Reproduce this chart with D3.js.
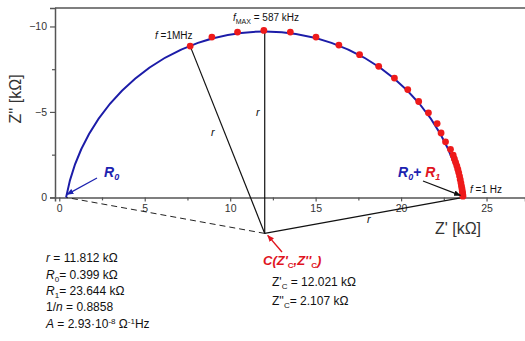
<!DOCTYPE html>
<html>
<head>
<meta charset="utf-8">
<script src="https://cdn.jsdelivr.net/npm/d3@7"></script>
<style>
  html,body{margin:0;padding:0;background:#fff;}
  svg{display:block;font-family:"Liberation Sans",Arial,sans-serif;}
</style>
</head>
<body>
<svg id="chart" width="525" height="341"></svg>
<script>
// ---- data ----
const xTicks = [0, 5, 10, 15, 20, 25];
const xMinorTicks = [2.5, 7.5, 12.5, 17.5, 22.5];
const yTicks = [0, -5, -10];
const yMinorTicks = [-2.5, -7.5];
// measured impedance points (Z' , Z'') in kOhm
const zReal = [7.66, 8.93, 10.43, 11.97, 13.52, 15.02, 16.36, 17.57, 18.69, 19.61, 20.39, 21.03, 21.60, 22.11, 22.34, 22.60, 22.89, 23.05,
               23.12, 23.19, 23.26, 23.32, 23.37, 23.42, 23.46, 23.50, 23.53, 23.56, 23.58, 23.60, 23.61, 23.62];
const zImag = [-8.85, -9.38, -9.67, -9.77, -9.67, -9.38, -8.91, -8.35, -7.67, -6.98, -6.31, -5.61, -4.95, -4.32, -3.77, -3.25, -2.81, -2.47,
               -2.25, -2.05, -1.85, -1.65, -1.45, -1.25, -1.05, -0.85, -0.68, -0.52, -0.38, -0.26, -0.15, -0.07];
// fit parameters
const rFit = 11.812, R0 = 0.399, R1 = 23.644, ZcRe = 12.021, ZcIm = 2.107;
const f1MHz = [7.66, -8.85];

// ---- scales ----
const svg = d3.select("#chart");
const x = d3.scaleLinear().domain([-0.25, 27.25]).range([55, 525]);
const y = d3.scaleLinear().domain([0, -11.08]).range([197.4, 8]);
const pxPerUnit = x(1) - x(0);

const axisColor = "#555";
const textColor = "#333";

// top frame line
svg.append("line").attr("x1", 55).attr("x2", 525).attr("y1", y(-11.08)).attr("y2", y(-11.08))
  .attr("stroke", axisColor).attr("stroke-width", 1.5);

// x axis
const gx = svg.append("g").attr("transform", `translate(0,${y(0)})`)
  .call(d3.axisBottom(x).tickValues(xTicks).tickSize(4).tickPadding(3).tickFormat(d3.format("d")));
gx.select(".domain").attr("stroke", axisColor).attr("stroke-width", 1.5);
gx.selectAll(".tick line").attr("stroke", axisColor).attr("stroke-width", 1.2);
gx.selectAll(".tick text").attr("fill", textColor).attr("font-size", 10.5).attr("font-family", "Liberation Sans, Arial, sans-serif");
svg.append("g").attr("transform", `translate(0,${y(0)})`)
  .call(d3.axisBottom(x).tickValues(xMinorTicks).tickSize(3).tickFormat(""))
  .call(g => g.select(".domain").remove())
  .selectAll(".tick line").attr("stroke", axisColor).attr("stroke-width", 1.2);

// y axis
const gy = svg.append("g").attr("transform", `translate(55,0)`)
  .call(d3.axisLeft(y).tickValues(yTicks).tickSize(5).tickPadding(3).tickFormat(d => d === 0 ? "0" : "\u2212" + Math.abs(d)));
gy.select(".domain").attr("stroke", axisColor).attr("stroke-width", 1.5);
gy.selectAll(".tick line").attr("stroke", axisColor).attr("stroke-width", 1.2);
gy.selectAll(".tick text").attr("fill", textColor).attr("font-size", 10.5).attr("font-family", "Liberation Sans, Arial, sans-serif");
svg.append("g").attr("transform", `translate(55,0)`)
  .call(d3.axisLeft(y).tickValues(yMinorTicks).tickSize(3).tickFormat(""))
  .call(g => g.select(".domain").remove())
  .selectAll(".tick line").attr("stroke", axisColor).attr("stroke-width", 1.2);

// axis titles
svg.append("text").attr("x", 458).attr("y", 234).attr("text-anchor", "middle")
  .attr("font-size", 16).attr("fill", textColor).text("Z' [k\u03A9]");
svg.append("text").attr("transform", "translate(21,99) rotate(-90)").attr("text-anchor", "middle")
  .attr("font-size", 16).attr("fill", textColor).text("Z'' [k\u03A9]");

// markers
const defs = svg.append("defs");
function marker(id, color) {
  defs.append("marker").attr("id", id).attr("viewBox", "0 0 10 10").attr("refX", 9).attr("refY", 5)
    .attr("markerWidth", 7).attr("markerHeight", 7).attr("orient", "auto").attr("markerUnits", "userSpaceOnUse")
    .append("path").attr("d", "M0,1 L10,5 L0,9 Z").attr("fill", color);
}
marker("arBlue", "#1c22b0");
marker("arBlack", "#111");
marker("arRed", "#e0141e");

// construction lines from the centre
const cx = x(ZcRe), cy = y(ZcIm);
svg.append("line").attr("x1", cx).attr("y1", cy).attr("x2", x(R0)).attr("y2", y(0))
  .attr("stroke", "#222").attr("stroke-width", 1).attr("stroke-dasharray", "6,4");
svg.append("line").attr("x1", cx).attr("y1", cy).attr("x2", x(f1MHz[0])).attr("y2", y(f1MHz[1]))
  .attr("stroke", "#111").attr("stroke-width", 1.2);
svg.append("line").attr("x1", cx).attr("y1", cy).attr("x2", cx).attr("y2", y(ZcIm - rFit))
  .attr("stroke", "#111").attr("stroke-width", 1.2);
svg.append("line").attr("x1", cx).attr("y1", cy).attr("x2", x(R1)).attr("y2", y(0))
  .attr("stroke", "#111").attr("stroke-width", 1.2);

// fitted arc
const rPx = rFit * pxPerUnit;
svg.append("path")
  .attr("d", `M${x(R0)},${y(0)} A${rPx},${rPx} 0 0 1 ${x(R1)},${y(0)}`)
  .attr("fill", "none").attr("stroke", "#1c1ca8").attr("stroke-width", 2);

// data points
svg.append("g").selectAll("circle").data(d3.range(zReal.length)).join("circle")
  .attr("cx", i => x(zReal[i])).attr("cy", i => y(zImag[i])).attr("r", 3.4)
  .attr("fill", "#ee1a1a");

// r labels
function rLabel(px, py) {
  svg.append("text").attr("x", px).attr("y", py).attr("font-size", 11).attr("font-style", "italic")
    .attr("fill", "#111").text("r");
}
rLabel(211, 136);
rLabel(256, 116);
rLabel(367, 223);

// frequency labels
const fl1 = svg.append("text").attr("x", 155).attr("y", 39).attr("font-size", 10).attr("fill", "#111");
fl1.append("tspan").attr("font-style", "italic").text("f");
fl1.append("tspan").text(" =1MHz");
const fl2 = svg.append("text").attr("x", 233).attr("y", 21).attr("font-size", 10).attr("fill", "#111");
fl2.append("tspan").attr("font-style", "italic").text("f");
fl2.append("tspan").attr("font-size", 7).attr("dy", 2.5).text("MAX");
fl2.append("tspan").attr("dy", -2.5).text(" = 587 kHz");
const fl3 = svg.append("text").attr("x", 470).attr("y", 193).attr("font-size", 10).attr("fill", "#111");
fl3.append("tspan").attr("font-style", "italic").text("f");
fl3.append("tspan").text(" =1 Hz");

// R0 arrow
svg.append("line").attr("x1", 97).attr("y1", 178).attr("x2", x(R0) + 1).attr("y2", y(0) - 3)
  .attr("stroke", "#1c22b0").attr("stroke-width", 1.2).attr("marker-end", "url(#arBlue)");
const r0t = svg.append("text").attr("x", 104).attr("y", 177).attr("font-size", 14).attr("font-weight", "bold")
  .attr("font-style", "italic").attr("fill", "#1c22b0");
r0t.append("tspan").text("R");
r0t.append("tspan").attr("font-size", 9).attr("dy", 3).text("0");

// R0+R1 arrow
svg.append("line").attr("x1", 423).attr("y1", 181).attr("x2", x(R1) - 3).attr("y2", y(0) - 2)
  .attr("stroke", "#111").attr("stroke-width", 1.2).attr("marker-end", "url(#arBlack)");
const rr = svg.append("text").attr("x", 398).attr("y", 177).attr("font-size", 14).attr("font-weight", "bold")
  .attr("font-style", "italic");
rr.append("tspan").attr("fill", "#1c22b0").text("R");
rr.append("tspan").attr("fill", "#1c22b0").attr("font-size", 9).attr("dy", 3).text("0");
rr.append("tspan").attr("fill", "#1c22b0").attr("dy", -3).attr("font-style", "normal").text("+ ");
rr.append("tspan").attr("fill", "#e0141e").text("R");
rr.append("tspan").attr("fill", "#e0141e").attr("font-size", 9).attr("dy", 3).text("1");

// centre arrow & label
svg.append("line").attr("x1", 282).attr("y1", 252).attr("x2", cx + 3).attr("y2", cy + 2)
  .attr("stroke", "#e0141e").attr("stroke-width", 1.4).attr("marker-end", "url(#arRed)");
const ct = svg.append("text").attr("x", 263).attr("y", 265).attr("font-size", 13).attr("font-weight", "bold")
  .attr("font-style", "italic").attr("fill", "#e0141e");
ct.append("tspan").text("C(Z'");
ct.append("tspan").attr("font-size", 8).attr("dy", 3).attr("font-style", "normal").text("C");
ct.append("tspan").attr("dy", -3).text(",Z''");
ct.append("tspan").attr("font-size", 8).attr("dy", 3).attr("font-style", "normal").text("C");
ct.append("tspan").attr("dy", -3).text(")");

// centre values
function lineText(px, py, parts) {
  const t = svg.append("text").attr("x", px).attr("y", py).attr("font-size", 12).attr("fill", "#111");
  let shift = 0;
  parts.forEach(p => {
    const ts = t.append("tspan").text(p.t);
    let ns = p.sub ? 3 : p.sup ? -4 : 0;
    if (ns !== shift) { ts.attr("dy", ns - shift); shift = ns; }
    if (p.sub || p.sup) ts.attr("font-size", 8);
    if (p.i) ts.attr("font-style", "italic");
  });
}
lineText(272, 286, [{t: "Z'"}, {t: "C", sub: 1}, {t: " = 12.021 k\u03A9"}]);
lineText(272, 305, [{t: "Z''"}, {t: "C", sub: 1}, {t: "= 2.107 k\u03A9"}]);

// parameter block
lineText(46, 262, [{t: "r", i: 1}, {t: " = 11.812 k\u03A9"}]);
lineText(46, 279, [{t: "R", i: 1}, {t: "0", sub: 1}, {t: "= 0.399 k\u03A9"}]);
lineText(46, 295, [{t: "R", i: 1}, {t: "1", sub: 1}, {t: "= 23.644 k\u03A9"}]);
lineText(46, 311, [{t: "1/"}, {t: "n", i: 1}, {t: " = 0.8858"}]);
lineText(46, 328, [{t: "A", i: 1}, {t: " = 2.93\u00B710"}, {t: "-8", sup: 1}, {t: " \u03A9"}, {t: "-1", sup: 1}, {t: "Hz"}]);
</script>
</body>
</html>
